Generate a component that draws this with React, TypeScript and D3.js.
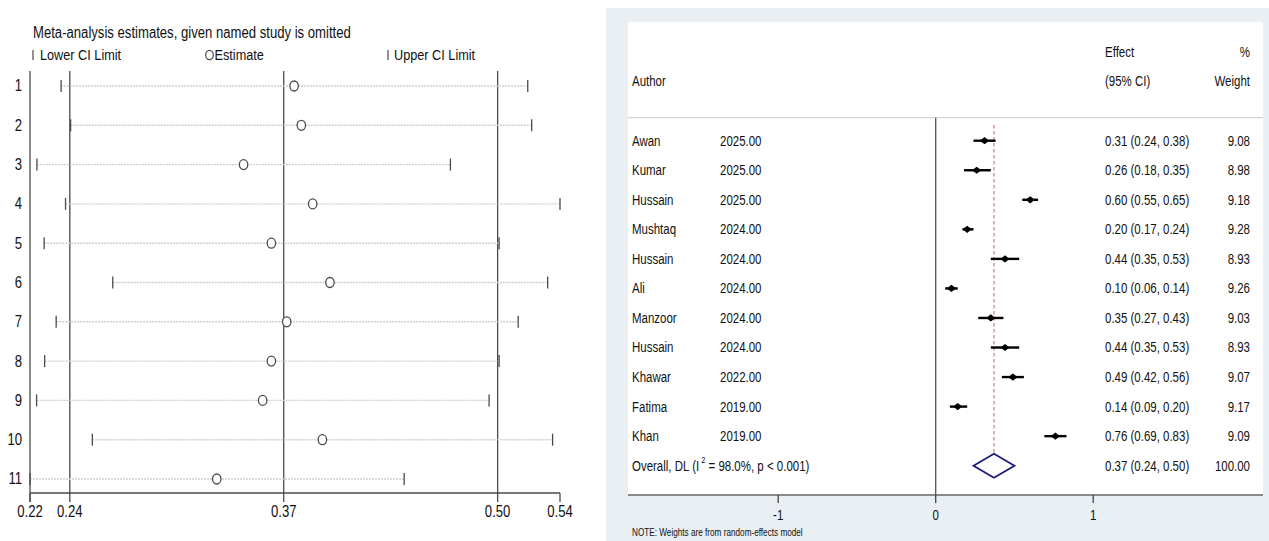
import React from "react";
import * as d3 from "d3";

// ---- Leave-one-out sensitivity analysis (left panel) ----
const studyIds = ["1", "2", "3", "4", "5", "6", "7", "8", "9", "10", "11"];
const looEstimate = [0.3763, 0.3807, 0.3456, 0.3876, 0.3625, 0.3981, 0.3718, 0.3625, 0.3572, 0.3935, 0.3293];
const looLower = [0.2347, 0.2405, 0.22, 0.2374, 0.2244, 0.2661, 0.2317, 0.2247, 0.2198, 0.2537, 0.2158];
const looUpper = [0.5183, 0.5207, 0.4713, 0.5379, 0.5009, 0.5304, 0.5125, 0.5009, 0.4948, 0.5334, 0.4432];

// ---- Forest plot (right panel) ----
const authors = ["Awan", "Kumar", "Hussain", "Mushtaq", "Hussain", "Ali", "Manzoor", "Hussain", "Khawar", "Fatima", "Khan"];
const years = [2025, 2025, 2025, 2024, 2024, 2024, 2024, 2024, 2022, 2019, 2019];
const effects = [0.31, 0.26, 0.6, 0.2, 0.44, 0.1, 0.35, 0.44, 0.49, 0.14, 0.76];
const ciLower = [0.24, 0.18, 0.55, 0.17, 0.35, 0.06, 0.27, 0.35, 0.42, 0.09, 0.69];
const ciUpper = [0.38, 0.35, 0.65, 0.24, 0.53, 0.14, 0.43, 0.53, 0.56, 0.2, 0.83];
const weights = [9.08, 8.98, 9.18, 9.28, 8.93, 9.26, 9.03, 8.93, 9.07, 9.17, 9.09];

// Pooled random-effects (DerSimonian-Laird) result
const overallEffect = 0.37;
const overallLower = 0.24;
const overallUpper = 0.5;
const overallWeight = 100;
const heterogeneityI2 = "98.0%";
const heterogeneityP = "p < 0.001";
const forestTicks = [-1, 0, 1];

const FONT = "'Liberation Sans', Arial, sans-serif";
const SX = 0.82; // condensed lettering
const f2 = d3.format(".2f");

type TProps = {
  x: number;
  y: number;
  size: number;
  anchor?: "start" | "middle" | "end";
  children: React.ReactNode;
};

// Text drawn with a horizontally condensed face
function T({ x, y, size, anchor = "start", children }: TProps) {
  return (
    <text
      transform={`translate(${x},${y}) scale(${SX},1)`}
      fontSize={size}
      textAnchor={anchor}
      dominantBaseline="central"
    >
      {children}
    </text>
  );
}

function LeftPanel() {
  const lo = d3.min(looLower) as number;
  const hi = d3.max(looUpper) as number;
  const x = d3.scaleLinear().domain([lo, hi]).range([30, 560]);
  const y = d3.scalePoint<string>().domain(studyIds).range([86, 479]);
  const top = 71;
  const axisY = 493;
  const ticks = [lo, overallLower, overallEffect, overallUpper, hi];
  const refLines = [overallLower, overallEffect, overallUpper];
  const ink = "#4a4a4a";

  return (
    <g fontFamily={FONT} fill="#111">
      <T x={33} y={33} size={16}>Meta-analysis estimates, given named study is omitted</T>
      {/* legend */}
      <line x1={33} x2={33} y1={50} y2={60} stroke={ink} strokeWidth={1.2} />
      <T x={40} y={55} size={15.5}>Lower CI Limit</T>
      <ellipse cx={209.5} cy={55} rx={3.8} ry={4.6} fill="none" stroke={ink} strokeWidth={1.2} />
      <T x={214.5} y={55} size={15.5}>Estimate</T>
      <line x1={388} x2={388} y1={50} y2={60} stroke={ink} strokeWidth={1.2} />
      <T x={394} y={55} size={15.5}>Upper CI Limit</T>

      {/* y axis */}
      <line x1={x(lo)} x2={x(lo)} y1={top} y2={axisY + 9} stroke={ink} strokeWidth={1.3} />
      {studyIds.map((id) => (
        <T key={id} x={22} y={y(id) as number} size={16} anchor="end">
          {id}
        </T>
      ))}

      {/* reference lines at pooled estimate and its CI */}
      {refLines.map((v, i) => (
        <line key={i} x1={x(v)} x2={x(v)} y1={top} y2={axisY} stroke={ink} strokeWidth={1.3} />
      ))}

      {/* x axis */}
      <line x1={x(lo)} x2={x(hi)} y1={axisY} y2={axisY} stroke={ink} strokeWidth={1.3} />
      {ticks.map((v, i) => (
        <g key={i}>
          <line x1={x(v)} x2={x(v)} y1={axisY} y2={axisY + 9} stroke={ink} strokeWidth={1.3} />
          <T x={x(v)} y={512} size={16} anchor="middle">
            {f2(v)}
          </T>
        </g>
      ))}

      {/* one row per omitted study */}
      {studyIds.map((id, i) => {
        const cy = y(id) as number;
        return (
          <g key={id}>
            <line
              x1={x(looLower[i])}
              x2={x(looUpper[i])}
              y1={cy}
              y2={cy}
              stroke="#cfcfcf"
              strokeWidth={1.4}
              strokeDasharray="2 1"
            />
            <line x1={x(looLower[i])} x2={x(looLower[i])} y1={cy - 6} y2={cy + 6} stroke={ink} strokeWidth={1.3} />
            <line x1={x(looUpper[i])} x2={x(looUpper[i])} y1={cy - 6} y2={cy + 6} stroke={ink} strokeWidth={1.3} />
            <ellipse cx={x(looEstimate[i])} cy={cy} rx={4.2} ry={5} fill="white" stroke={ink} strokeWidth={1.3} />
          </g>
        );
      })}
    </g>
  );
}

function RightPanel() {
  const x = d3.scaleLinear().domain([-1, 1]).range([778.2, 1093.2]);
  const row = d3.scaleLinear().domain([0, 11]).range([140.7, 465.7]);
  const plotL = 628;
  const plotR = 1263;
  const plotT = 22;
  const axisY = 495;
  const headerY = 117.7;
  const colAuthor = 632;
  const colYear = 720;
  const colEffect = 1105;
  const colWeight = 1250;
  const oy = row(authors.length);
  const diamondH = 12;
  const fs = 14;
  const effText = (e: number, l: number, u: number) => `${f2(e)} (${f2(l)}, ${f2(u)})`;

  return (
    <g fontFamily={FONT} fill="#111">
      <rect x={606} y={8} width={1269 - 606} height={541 - 8} fill="#e9eff2" />
      <rect x={plotL} y={plotT} width={plotR - plotL} height={axisY - plotT} fill="#ffffff" />

      {/* header */}
      <T x={colAuthor} y={81} size={fs}>Author</T>
      <T x={colEffect} y={51.7} size={fs}>Effect</T>
      <T x={colEffect} y={81} size={fs}>(95% CI)</T>
      <T x={colWeight} y={51.7} size={fs} anchor="end">%</T>
      <T x={colWeight} y={81} size={fs} anchor="end">Weight</T>
      <line x1={plotL} x2={plotR} y1={headerY} y2={headerY} stroke="#d4d4d4" strokeWidth={1.2} />

      {/* null line */}
      <line x1={x(0)} x2={x(0)} y1={headerY} y2={axisY} stroke="#555" strokeWidth={1.3} />
      {/* pooled estimate line */}
      <line
        x1={x(overallEffect)}
        x2={x(overallEffect)}
        y1={125}
        y2={oy + diamondH}
        stroke="#c65c68"
        strokeWidth={1}
        strokeDasharray="3.5 2.5"
      />

      {authors.map((a, i) => {
        const cy = row(i);
        const cx = x(effects[i]);
        return (
          <g key={i}>
            <T x={colAuthor} y={cy} size={fs}>{a}</T>
            <T x={colYear} y={cy} size={fs}>{f2(years[i])}</T>
            <line x1={x(ciLower[i])} x2={x(ciUpper[i])} y1={cy} y2={cy} stroke="#000" strokeWidth={2.4} />
            <path d={`M${cx - 4.6},${cy}L${cx},${cy - 3.6}L${cx + 4.6},${cy}L${cx},${cy + 3.6}Z`} fill="#000" />
            <T x={colEffect} y={cy} size={fs}>{effText(effects[i], ciLower[i], ciUpper[i])}</T>
            <T x={colWeight} y={cy} size={fs} anchor="end">{f2(weights[i])}</T>
          </g>
        );
      })}

      {/* overall */}
      <T x={colAuthor} y={oy} size={fs}>
        Overall, DL (I
        <tspan fontSize={9} dy={-6}> 2</tspan>
        <tspan dy={6}> = {heterogeneityI2}, {heterogeneityP})</tspan>
      </T>
      <path
        d={`M${x(overallLower)},${oy}L${x(overallEffect)},${oy - diamondH}L${x(overallUpper)},${oy}L${x(overallEffect)},${oy + diamondH}Z`}
        fill="white"
        stroke="#1c1c78"
        strokeWidth={1.8}
      />
      <T x={colEffect} y={oy} size={fs}>{effText(overallEffect, overallLower, overallUpper)}</T>
      <T x={colWeight} y={oy} size={fs} anchor="end">{f2(overallWeight)}</T>

      {/* axis */}
      <line x1={plotL} x2={plotR} y1={axisY} y2={axisY} stroke="#666" strokeWidth={1.3} />
      {forestTicks.map((t) => (
        <g key={t}>
          <line x1={x(t)} x2={x(t)} y1={axisY} y2={axisY + 8} stroke="#444" strokeWidth={1.3} />
          <T x={x(t)} y={515} size={fs} anchor="middle">{t}</T>
        </g>
      ))}

      <T x={632} y={533} size={10}>NOTE: Weights are from random-effects model</T>
    </g>
  );
}

export default function App() {
  return (
    <svg
      width={1269}
      height={541}
      viewBox="0 0 1269 541"
      style={{ position: "absolute", left: 0, top: 0, display: "block", background: "#fff" }}
    >
      <rect width={1269} height={541} fill="#fff" />
      <LeftPanel />
      <RightPanel />
    </svg>
  );
}
